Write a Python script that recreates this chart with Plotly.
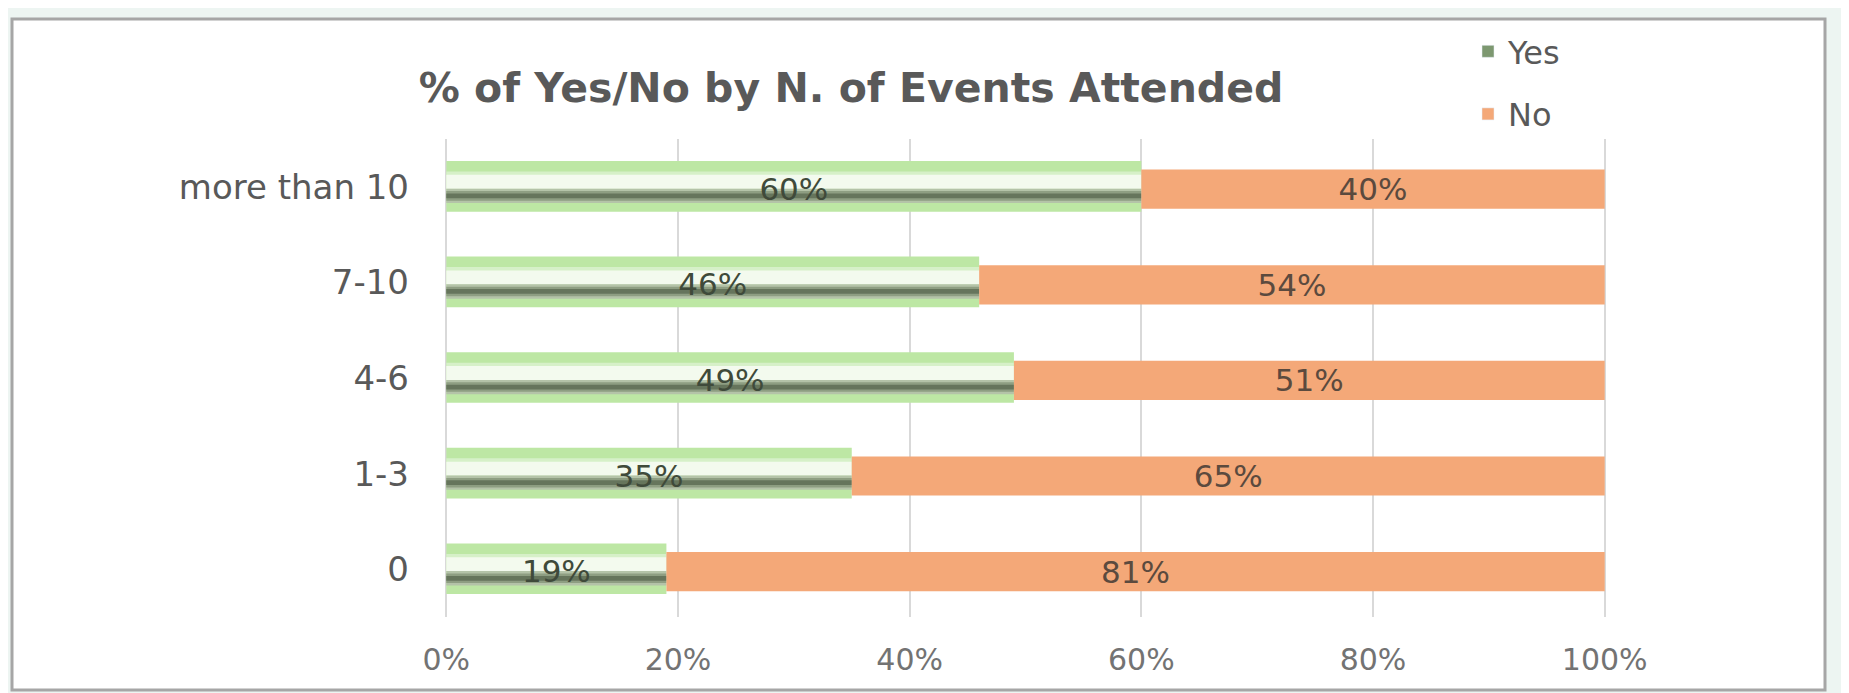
import plotly.graph_objects as go

# data
categories = ['0', '1-3', '4-6', '7-10', 'more than 10']
yes_pct = [19, 35, 49, 46, 60]
no_pct = [81, 65, 51, 54, 40]
x_ticks = [0, 0.2, 0.4, 0.6, 0.8, 1.0]

yes = [v / 100 for v in yes_pct]
no = [v / 100 for v in no_pct]

# page body has an 8px margin, so the figure is drawn 8px in from the window edge
OFF = 8
W, H = 1849 - OFF, 693 - OFF
L, T = 444 - OFF, 139 - OFF
plot_w, plot_h = 1163, 478
R = W - L - plot_w
B = H - T - plot_h

FONT = 'DejaVu Sans'

fig = go.Figure()

# glossy "Yes" bar built from stacked layers (offset / width in category units)
yes_layers = [
    ('#bde7a4', -0.26, 0.53),
    ('#d6f0c8', -0.04, 0.20),
    ('#f3faee', -0.02, 0.145),
    ('#b4c3a8', -0.17, 0.15),
    ('#8e9e82', -0.145, 0.10),
    ('#66755c', -0.12, 0.05),
]
for col, off, wid in yes_layers:
    fig.add_trace(go.Bar(
        y=categories, x=yes, base=0, orientation='h',
        offset=off, width=wid,
        marker=dict(color=col, line=dict(width=0)),
        name='Yes', legendgroup='yes', showlegend=False,
        hoverinfo='skip',
    ))

fig.add_trace(go.Bar(
    y=categories, x=no, base=yes, orientation='h',
    offset=-0.23, width=0.41,
    marker=dict(color='#f4a878', line=dict(width=0)),
    text=[f'{v}%' for v in no_pct], textposition='inside',
    insidetextanchor='middle', textangle=0, constraintext='none',
    textfont=dict(family=FONT, size=31, color='#5b4a3e'),
    name='No', legendgroup='no', showlegend=False,
))

# labels for the Yes bars (transparent layer on top)
fig.add_trace(go.Bar(
    y=categories, x=yes, base=0, orientation='h',
    offset=-0.27, width=0.5,
    marker=dict(color='rgba(0,0,0,0)', line=dict(width=0)),
    text=[f'{v}%' for v in yes_pct], textposition='inside',
    insidetextanchor='middle', textangle=0, constraintext='none',
    textfont=dict(family=FONT, size=31, color='#3f4a3a'),
    legendgroup='yes', showlegend=False, hoverinfo='skip',
))

# legend entries
fig.add_trace(go.Bar(y=[None], x=[None], orientation='h', name='Yes',
                     legendgroup='yes', marker=dict(color='#7d9870')))
fig.add_trace(go.Bar(y=[None], x=[None], orientation='h', name='No',
                     legendgroup='no', marker=dict(color='#f4a878')))

# chart frame (window pixel coords converted to paper coords)
def px_x(p):
    return (p - OFF - L) / plot_w

def px_y(p):
    return (T + plot_h - (p - OFF)) / plot_h

fig.add_shape(
    type='rect', xref='paper', yref='paper', layer='below',
    x0=px_x(12), x1=px_x(1825), y0=px_y(690), y1=px_y(19),
    fillcolor='white', line=dict(color='#a6a6a6', width=3),
)

fig.update_layout(
    width=W, height=H,
    margin=dict(l=L, r=R, t=T, b=B),
    barmode='overlay',
    paper_bgcolor='#edf5f2',
    plot_bgcolor='rgba(0,0,0,0)',
    title=dict(
        text='<b>% of Yes/No by N. of Events Attended</b>',
        x=(851 - OFF) / W, xanchor='center', xref='container',
        y=1 - (88 - OFF) / H, yanchor='middle', yref='container',
        font=dict(family=FONT, size=41, color='#595959'),
    ),
    legend=dict(
        x=px_x(1468), xanchor='left',
        y=px_y(24), yanchor='top',
        font=dict(family=FONT, size=32, color='#595959'),
        bgcolor='rgba(0,0,0,0)', tracegroupgap=18,
        traceorder='grouped',
    ),
    xaxis=dict(
        range=[-0.002, 1.002], tickvals=x_ticks, tickformat='.0%',
        showgrid=True, gridcolor='#d9d9d9', gridwidth=2,
        zeroline=False, showline=False, ticks='',
        ticklabelstandoff=22,
        tickfont=dict(family=FONT, size=30, color='#737373'),
    ),
    yaxis=dict(
        categoryorder='array', categoryarray=categories,
        range=[-0.5, 4.5],
        showgrid=False, zeroline=False, ticks='',
        ticklabelstandoff=34,
        tickfont=dict(family=FONT, size=34, color='#595959'),
    ),
)

fig.write_html('out.html')
